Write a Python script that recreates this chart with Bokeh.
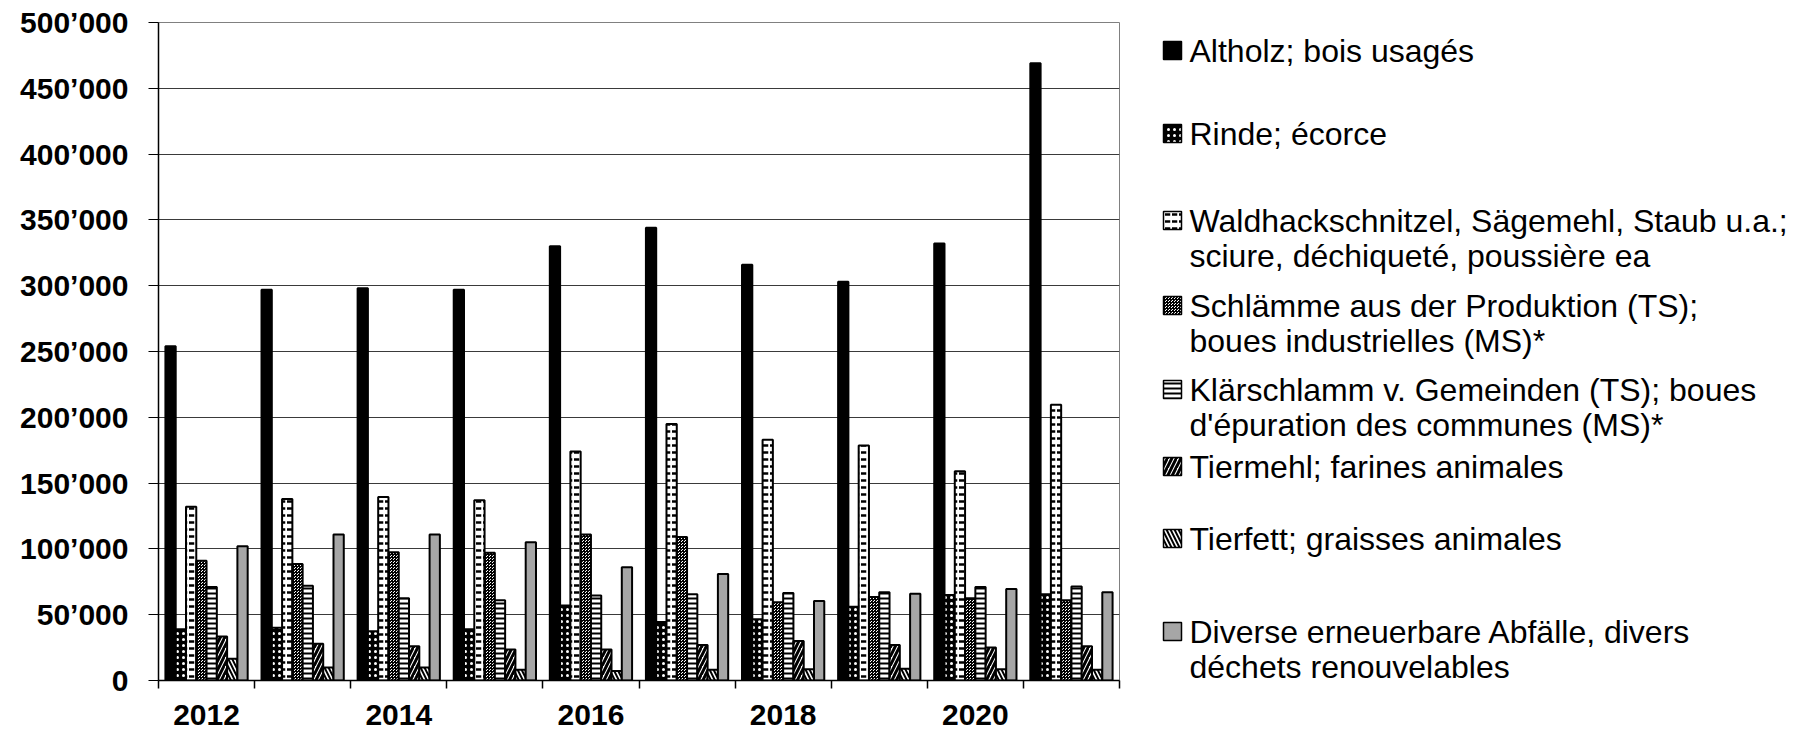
from bokeh.plotting import figure
from bokeh.models import Range1d, FixedTicker
from bokeh.layouts import row
from bokeh.core.properties import value
from bokeh.embed import file_html
from bokeh.resources import INLINE

years = ["2012", "2013", "2014", "2015", "2016", "2017", "2018", "2019", "2020", "2021"]

altholz = [254000, 297000, 298000, 297000, 330000, 344000, 316000, 303000, 332000, 469000]
rinde = [39000, 40000, 37500, 39000, 57000, 44500, 46500, 56000, 65000, 65500]
waldhack = [132000, 138000, 139500, 137000, 174000, 195000, 183000, 178500, 159000, 209500]
schlaemme = [91000, 88500, 97500, 97000, 111000, 109000, 59500, 63500, 62500, 61000]
klaerschlamm = [71000, 72000, 62500, 61000, 64500, 65500, 66500, 67000, 71000, 71500]
tiermehl = [33500, 28000, 26000, 23500, 23500, 27000, 30000, 27000, 25000, 26000]
tierfett = [16500, 9800, 9800, 8200, 7200, 8200, 8500, 9000, 8500, 8200]
diverse = [102000, 111000, 111000, 105000, 86000, 81000, 60500, 66000, 69500, 67000]

labels = [
    "Altholz; bois usagés",
    "Rinde; écorce",
    "Waldhackschnitzel, Sägemehl, Staub u.a.;\nsciure, déchiqueté, poussière ea",
    "Schlämme aus der Produktion (TS);\nboues industrielles (MS)*",
    "Klärschlamm v. Gemeinden (TS); boues\nd'épuration des communes (MS)*",
    "Tiermehl; farines animales",
    "Tierfett; graisses animales",
    "Diverse erneuerbare Abfälle, divers\ndéchets renouvelables",
]
series = [altholz, rinde, waldhack, schlaemme, klaerschlamm, tiermehl, tierfett, diverse]

y_ticks = [0, 50000, 100000, 150000, 200000, 250000, 300000, 350000, 400000, 450000, 500000]

styles = [
    dict(fill_color="black"),
    dict(fill_color="black", hatch_pattern="dot", hatch_color="white", hatch_scale=6, hatch_weight=2),
    dict(fill_color="white", hatch_pattern="horizontal_dash", hatch_color="black", hatch_scale=7, hatch_weight=2.5),
    dict(fill_color="white", hatch_pattern="criss_cross", hatch_color="black", hatch_scale=3, hatch_weight=1),
    dict(fill_color="white", hatch_pattern="horizontal_line", hatch_color="black", hatch_scale=5, hatch_weight=2),
    dict(fill_color="white", hatch_pattern="right_diagonal_line", hatch_color="black", hatch_scale=9, hatch_weight=3),
    dict(fill_color="white", hatch_pattern="left_diagonal_line", hatch_color="black", hatch_scale=8, hatch_weight=2),
    dict(fill_color="#a6a6a6"),
]

FONT = "Liberation Sans"
n_years = len(years)
n_series = len(series)
bar_w = 0.107

# page layout (pixels)
MW, H = 1123, 732
TOP, BOTTOM = 22, 52

# ---------------- main chart ----------------
p = figure(width=MW, height=H, output_backend="svg", toolbar_location=None, title=None,
           x_range=Range1d(0, n_years), y_range=Range1d(0, 500000),
           min_border_left=158, min_border_right=4, min_border_top=TOP, min_border_bottom=BOTTOM)
p.background_fill_color = "white"
p.border_fill_color = "white"
p.outline_line_color = "#808080"
p.outline_line_width = 1

for j, (vals, st) in enumerate(zip(series, styles)):
    xs = [i + 0.5 + (j - (n_series - 1) / 2) * bar_w for i in range(n_years)]
    p.vbar(x=xs, top=vals, bottom=0, width=bar_w, line_color="black", line_width=2, **st)

label_pos = [i + 0.5 for i in range(0, n_years, 2)]
p.xaxis.ticker = FixedTicker(ticks=label_pos, minor_ticks=list(range(n_years + 1)))
p.xaxis.major_label_overrides = {i + 0.5: years[i] for i in range(0, n_years, 2)}
p.xaxis.major_tick_out = 0
p.xaxis.major_tick_in = 0
p.xaxis.minor_tick_out = 8
p.xaxis.minor_tick_in = 0
p.xaxis.minor_tick_line_color = "black"
p.xaxis.minor_tick_line_width = 1.5
p.xaxis.major_label_standoff = 16
p.xaxis.major_label_text_font = FONT
p.xaxis.major_label_text_font_style = "bold"
p.xaxis.major_label_text_font_size = "30px"
p.xaxis.major_label_text_color = "black"
p.xaxis.axis_line_color = "black"
p.xaxis.axis_line_width = 1.5

p.yaxis.ticker = FixedTicker(ticks=y_ticks)
p.yaxis.major_label_overrides = {v: f"{v:,}".replace(",", "\u2019") for v in y_ticks}
p.yaxis.major_tick_out = 10
p.yaxis.major_tick_in = 0
p.yaxis.minor_tick_out = 0
p.yaxis.minor_tick_in = 0
p.yaxis.major_tick_line_color = "black"
p.yaxis.major_label_standoff = 20
p.yaxis.major_label_text_font = FONT
p.yaxis.major_label_text_font_style = "bold"
p.yaxis.major_label_text_font_size = "30px"
p.yaxis.major_label_text_color = "black"
p.yaxis.axis_line_color = "black"
p.yaxis.axis_line_width = 1.5

p.xgrid.grid_line_color = None
p.ygrid.ticker = FixedTicker(ticks=y_ticks)
p.ygrid.grid_line_color = "#3a3a3a"
p.ygrid.grid_line_width = 1

# ---------------- legend panel (page-pixel coordinates) ----------------
LW = 1811 - MW
lg = figure(width=LW, height=H, output_backend="svg", toolbar_location=None, title=None,
            x_range=Range1d(0, LW), y_range=Range1d(H - BOTTOM, TOP),
            x_axis_type=None, y_axis_type=None,
            min_border_left=0, min_border_right=0, min_border_top=TOP, min_border_bottom=BOTTOM)
lg.grid.visible = False
lg.outline_line_color = None
lg.background_fill_color = "white"
lg.border_fill_color = "white"

icon_x0, icon_size, text_x, line_gap = 40, 18, 66, 35
entry_cy = [50, 133, 220, 305, 389, 466, 538, 631]
for lab, st, cy in zip(labels, styles, entry_cy):
    lg.quad(left=[icon_x0], right=[icon_x0 + icon_size], top=[cy - icon_size / 2],
            bottom=[cy + icon_size / 2], line_color="black", line_width=1.5, **st)
    lines = lab.split("\n")
    lg.text(x=[text_x] * len(lines), y=[cy + li * line_gap for li in range(len(lines))],
            text=lines, text_font=value(FONT), text_font_size="32px",
            text_baseline="middle", text_align="left", text_color="black")

layout = row(p, lg)
open("out.html", "w").write(file_html(layout, INLINE))
